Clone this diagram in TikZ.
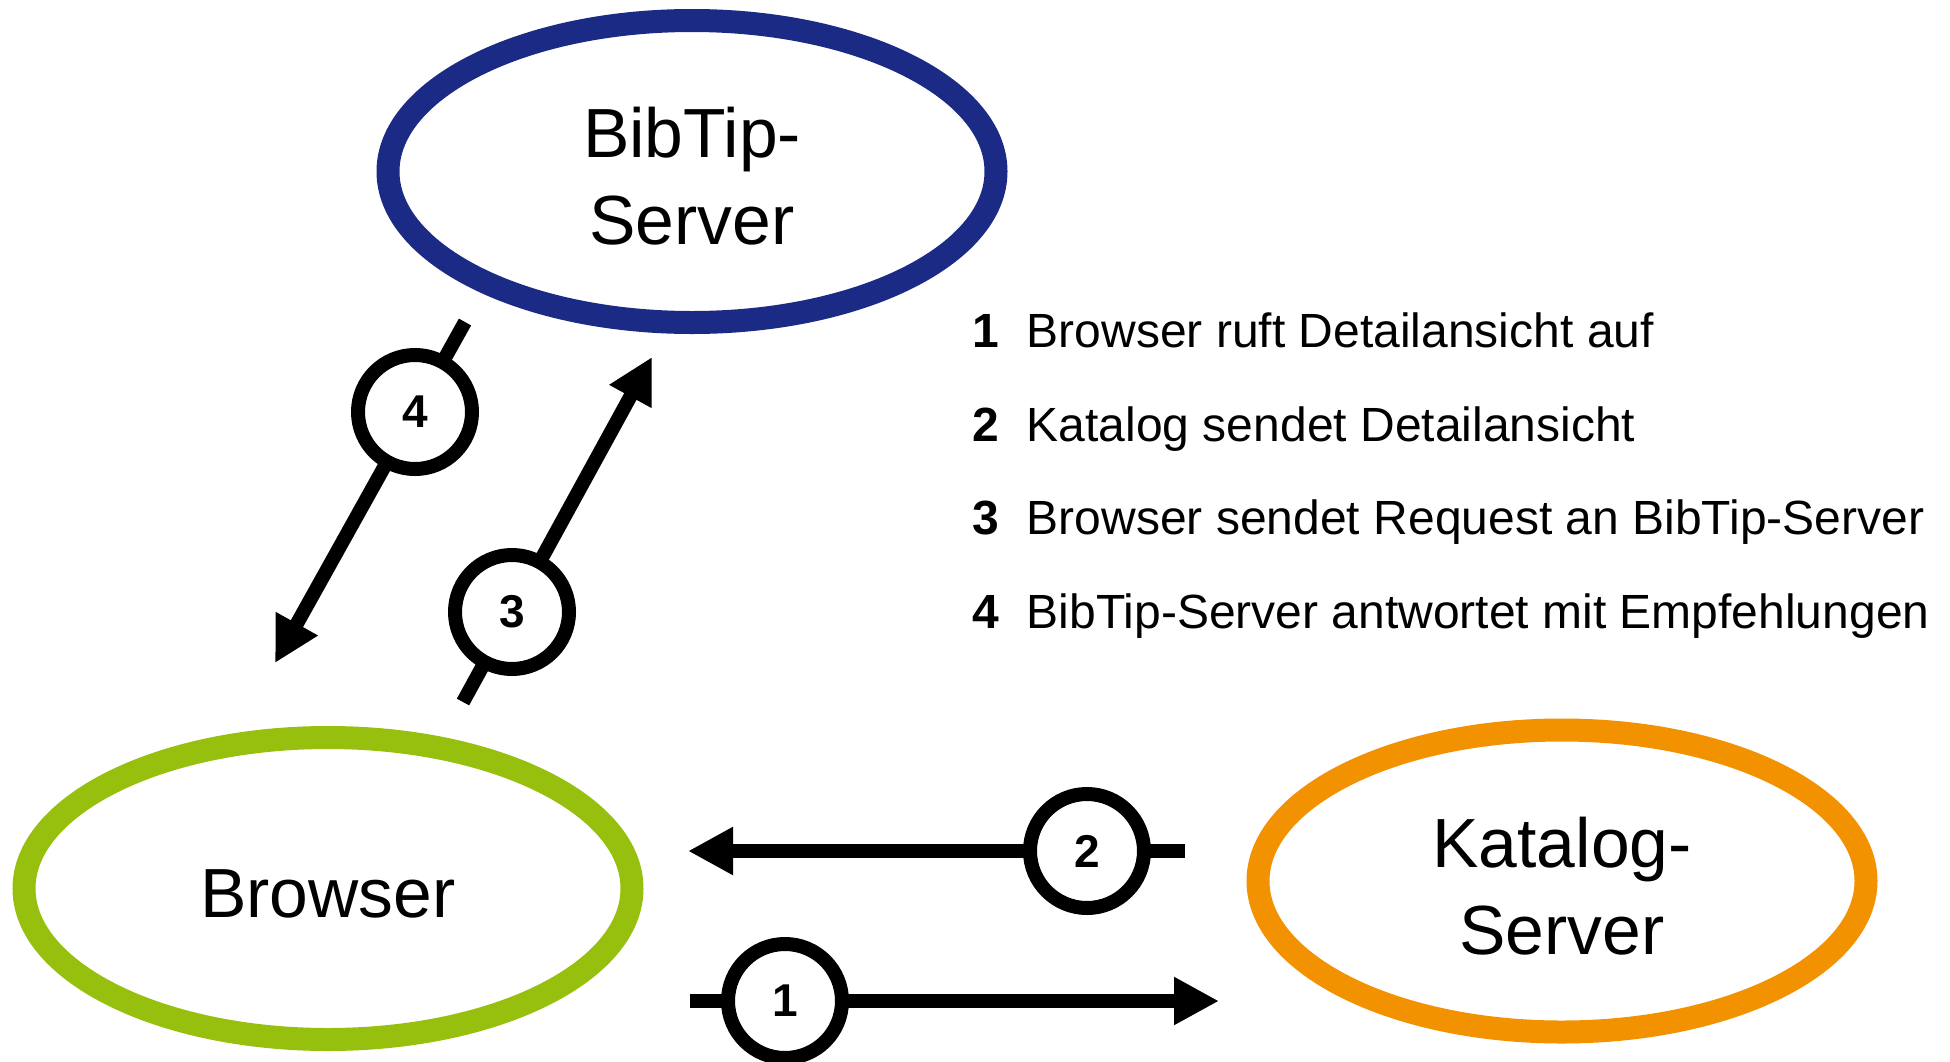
\documentclass[tikz,border=0pt]{standalone}
\usepackage{fontspec}
\setmainfont{Liberation Sans}
\usetikzlibrary{arrows.meta,shapes.geometric}
\definecolor{bibblue}{RGB}{27,42,133}
\definecolor{browgreen}{RGB}{151,191,13}
\definecolor{katorange}{RGB}{243,146,0}
\begin{document}
\begin{tikzpicture}[x=0.5pt,y=-0.5pt,
  server/.style={ellipse, draw, line width=11.5pt, minimum width=304pt, minimum height=151pt,
    inner sep=0pt},
  srvtext/.style={inner sep=0pt, align=center, font=\fontsize{34.8pt}{43.5pt}\selectfont},
  stepnum/.style={circle, draw, line width=7pt, fill=white, minimum size=57pt, inner sep=0pt,
    font=\fontsize{23pt}{27pt}\selectfont\bfseries},
  flow/.style={line width=7pt, -{Triangle[length=22.5pt,width=22.5pt]}},
  legnum/.style={anchor=base west, inner sep=0pt, font=\fontsize{24pt}{28pt}\selectfont\bfseries},
  legtxt/.style={anchor=base west, inner sep=0pt, font=\fontsize{24pt}{28pt}\selectfont}]
\useasboundingbox (0,0) rectangle (1950,1061);
\clip (0,0) rectangle (1950,1061);

% servers
\node[server, draw=bibblue] (bib) at (692,171.5) {};
\node[srvtext] (bibtext) at ([yshift=-2.5pt]bib.center) {BibTip-\\Server};
\node[server, draw=browgreen] (brow) at (328,888.5) {};
\node[srvtext] (browtext) at ([yshift=-2.5pt]brow.center) {Browser};
\node[server, draw=katorange] (kat) at (1562,881) {};
\node[srvtext] (kattext) at ([yshift=-2.5pt]kat.center) {Katalog-\\Server};

% flow 1: Browser -> Katalog
\coordinate (s1) at (690,1001);
\coordinate (e1) at (1219,1001);
\draw[flow] (s1) -- (e1);
\node[stepnum] (n1) at (785,1001) {1};

% flow 2: Katalog -> Browser
\coordinate (s2) at (1185,851);
\coordinate (e2) at (688,851);
\draw[flow] (s2) -- (e2);
\node[stepnum] (n2) at (1087,851) {2};

% flow 3: Browser -> BibTip
\coordinate (s3) at (463,702);
\coordinate (e3) at (652,357);
\draw[flow] (s3) -- (e3);
\node[stepnum] (n3) at (512,612) {3};

% flow 4: BibTip -> Browser
\coordinate (s4) at (465,322);
\coordinate (e4) at (275,663);
\draw[flow] (s4) -- (e4);
\node[stepnum] (n4) at (415,412) {4};

% legend
\node[legnum] (l1n) at (972,347) {1};
\node[legtxt] (l1t) at (1026.5,347) {Browser ruft Detailansicht auf};
\node[legnum] (l2n) at (972,441) {2};
\node[legtxt] (l2t) at (1026.5,441) {Katalog sendet Detailansicht};
\node[legnum] (l3n) at (972,534) {3};
\node[legtxt] (l3t) at (1026.5,534) {Browser sendet Request an BibTip-Server};
\node[legnum] (l4n) at (972,628) {4};
\node[legtxt] (l4t) at (1026.5,628) {BibTip-Server antwortet mit Empfehlungen};
\end{tikzpicture}
\end{document}
